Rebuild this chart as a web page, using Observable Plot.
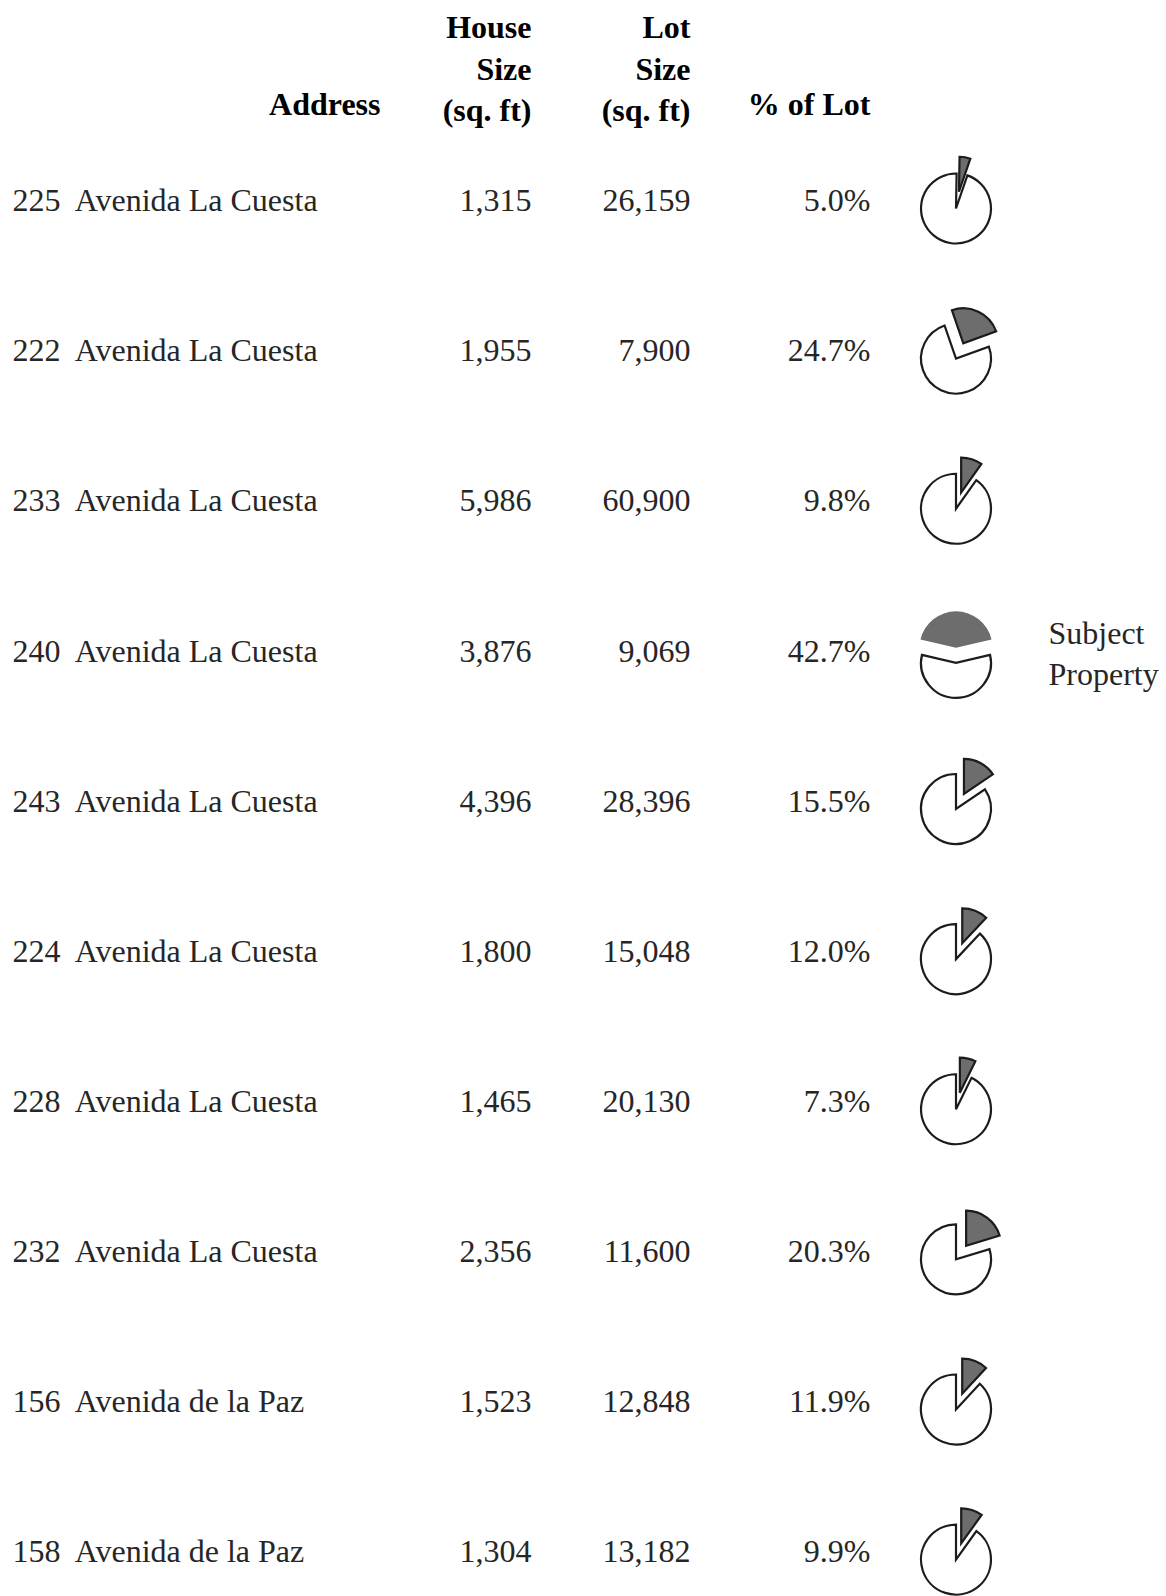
<!DOCTYPE html>
<html>
<head>
<meta charset="utf-8">
<script src="https://cdn.jsdelivr.net/npm/d3@7"></script>
<script src="https://cdn.jsdelivr.net/npm/@observablehq/plot@0.6"></script>
<style>
  html, body { margin: 0; padding: 0; background: #fff; }
  #chart svg { display: block; }
  #chart svg text, #chart svg tspan { font-family: "Liberation Serif", "Times New Roman", Tinos, "DejaVu Serif", serif !important; }
</style>
</head>
<body>
<div id="chart"></div>
<script>
// ---- Data ----
const addresses = [
  "225 Avenida La Cuesta",
  "222 Avenida La Cuesta",
  "233 Avenida La Cuesta",
  "240 Avenida La Cuesta",
  "243 Avenida La Cuesta",
  "224 Avenida La Cuesta",
  "228 Avenida La Cuesta",
  "232 Avenida La Cuesta",
  "156 Avenida de la Paz",
  "158 Avenida de la Paz"
];
const houseSize = [1315, 1955, 5986, 3876, 4396, 1800, 1465, 2356, 1523, 1304];
const lotSize = [26159, 7900, 60900, 9069, 28396, 15048, 20130, 11600, 12848, 13182];
const pctOfLot = [5.0, 24.7, 9.8, 42.7, 15.5, 12.0, 7.3, 20.3, 11.9, 9.9];
// angle of first slice (degrees, clockwise from 12 o'clock) as drawn in each pie
const firstSliceAngle = [1, -19, 0, -76.85, 0, 0, 0, 0, 0, 0];
const subjectAddress = "240 Avenida La Cuesta";
const subjectLabel = "Subject\nProperty";
const headerAddress = "Address";
const headerHouse = "House\nSize\n(sq. ft)";
const headerLot = "Lot\nSize\n(sq. ft)";
const headerPct = "% of Lot";

// ---- Table built from the arrays ----
const rows = addresses.map((a, i) => ({
  i, address: a, house: houseSize[i], lot: lotSize[i], pct: pctOfLot[i],
  start: firstSliceAngle[i], subject: a === subjectAddress
}));

// layout
const W = 1166, H = 1596;
const colAddr = 12, colAddrHead = 380, colHouse = 531, colLot = 690, colPct = 870, colPie = 956, colSubj = 1048;
const headerRow = -0.638;
const R = 35;
const fontFamily = "Liberation Serif";
const fs = 32;
const gray = "#6d6d6d";
const ink = "#1c1c1c";
const textInk = "#262626";

const fmtInt = d3.format(",");
const fmtPct = d => d3.format(".1f")(d) + "%";

const pieMark = Plot.dot(rows, {
  x: () => colPie, y: "i", r: 0,
  render(index, scales, values) {
    const g = d3.create("svg:g");
    const arc = d3.arc();
    for (const k of index) {
      const d = rows[k];
      const cx = values.x[k], cy = values.y[k] + (d.subject ? 12 : 8);
      const a0 = d.start * Math.PI / 180;
      const a1 = a0 + d.pct / 100 * 2 * Math.PI;
      const mid = (a0 + a1) / 2;
      const ex = d.subject ? 15 : 17;
      g.append("path")
        .attr("transform", `translate(${cx},${cy})`)
        .attr("d", arc({innerRadius: 0, outerRadius: R, startAngle: a1, endAngle: a0 + 2 * Math.PI}))
        .attr("fill", "#fff")
        .attr("stroke", ink)
        .attr("stroke-width", 2.2)
        .attr("stroke-linejoin", "miter");
      g.append("path")
        .attr("transform", `translate(${cx + ex * Math.sin(mid)},${cy - ex * Math.cos(mid)})`)
        .attr("d", arc({innerRadius: 0, outerRadius: d.subject ? R + 1.5 : R, startAngle: a0, endAngle: a1}))
        .attr("fill", gray)
        .attr("stroke", d.subject ? "none" : ink)
        .attr("stroke-width", 2.2)
        .attr("stroke-linejoin", "miter");
    }
    return g.node();
  }
});

const textOpts = {fontSize: fs, fontFamily, fill: textInk};
const headOpts = {fontSize: fs, fontFamily, fill: "#000", fontWeight: "bold"};

const chart = Plot.plot({
  width: W,
  height: H,
  margin: 0,
  style: {background: "#fff", fontFamily: "Liberation Serif, serif"},
  x: {type: "linear", domain: [0, W], range: [0, W], axis: null},
  y: {type: "linear", domain: [0, addresses.length - 1], range: [200.5, 1551.6], axis: null},
  marks: [
    // headers
    Plot.text([headerAddress], {x: () => colAddrHead, y: () => headerRow, text: d => d, textAnchor: "end", lineAnchor: "middle", ...headOpts}),
    Plot.text([headerHouse], {x: () => colHouse, y: () => headerRow, text: d => d, textAnchor: "end", lineAnchor: "bottom", lineHeight: 1.3, dy: 16, ...headOpts}),
    Plot.text([headerLot], {x: () => colLot, y: () => headerRow, text: d => d, textAnchor: "end", lineAnchor: "bottom", lineHeight: 1.3, dy: 16, ...headOpts}),
    Plot.text([headerPct], {x: () => colPct, y: () => headerRow, text: d => d, textAnchor: "end", lineAnchor: "middle", ...headOpts}),
    // columns
    Plot.text(rows, {x: () => colAddr, y: "i", text: d => d.address.replace(" ", "\u00a0 "), textAnchor: "start", lineAnchor: "middle", ...textOpts}),
    Plot.text(rows, {x: () => colHouse, y: "i", text: d => fmtInt(d.house), textAnchor: "end", lineAnchor: "middle", ...textOpts}),
    Plot.text(rows, {x: () => colLot, y: "i", text: d => fmtInt(d.lot), textAnchor: "end", lineAnchor: "middle", ...textOpts}),
    Plot.text(rows, {x: () => colPct, y: "i", text: d => fmtPct(d.pct), textAnchor: "end", lineAnchor: "middle", ...textOpts}),
    // pies
    pieMark,
    // subject label
    Plot.text(rows.filter(d => d.subject), {x: () => colSubj, y: "i", text: () => subjectLabel, textAnchor: "start", lineAnchor: "middle", lineHeight: 1.27, ...textOpts})
  ]
});

document.getElementById("chart").append(chart);
</script>
</body>
</html>
